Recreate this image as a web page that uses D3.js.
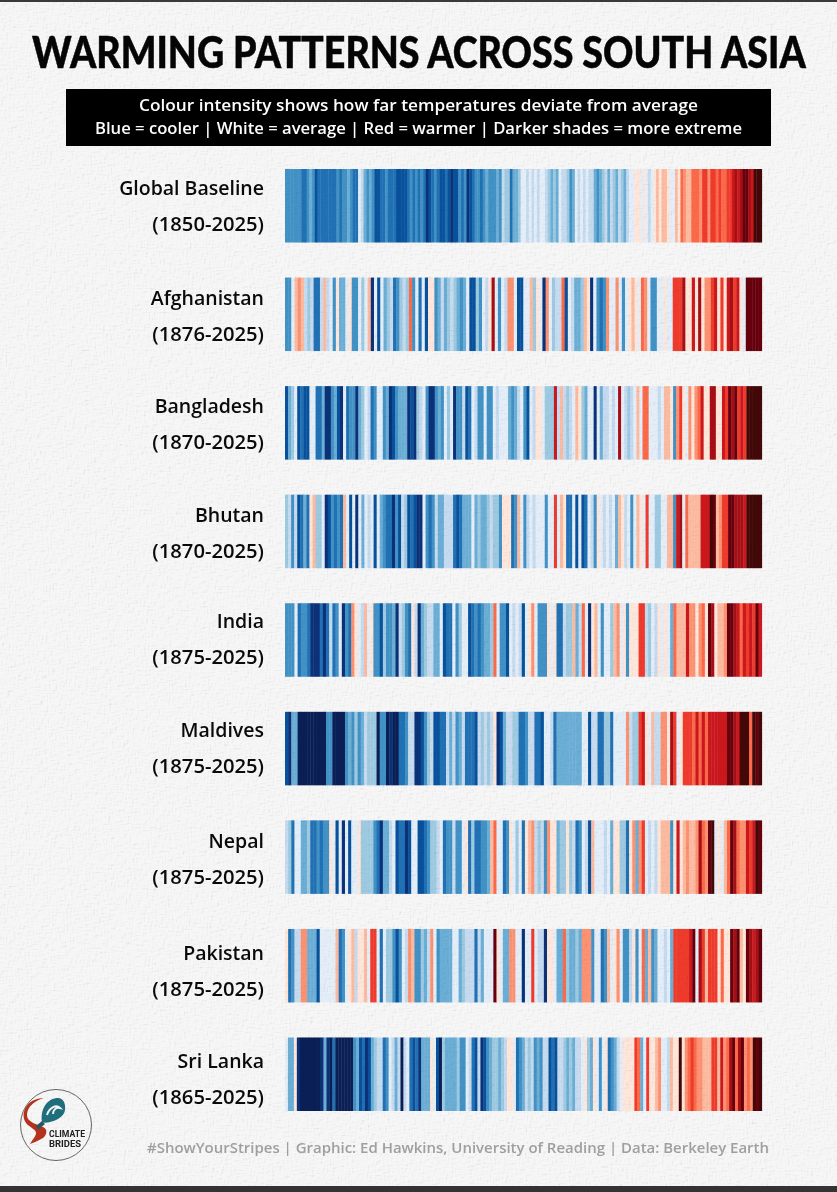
<!DOCTYPE html>
<html>
<head>
<meta charset="utf-8">
<script src="https://cdn.jsdelivr.net/npm/d3@7"></script>
<style>
  html, body { margin: 0; padding: 0; background: #f3f3f3; }
  svg { display: block; }
</style>
</head>
<body>
<svg id="chart" width="837" height="1192"></svg>
<script>
// stripe level per year: -9 darkest blue ... 9 darkest red
const globalBaseline = [-5,-5,-5,-5,-5,-5,-6,-6,-5,-4,-5,-7,-6,-6,-6,-6,-6,-6,-6,-5,-6,-5,-5,-4,-5,-6,-6,-1,-2,-4,-5,-4,-5,-7,-7,-6,-6,-5,-6,-6,-6,-7,-7,-7,-7,-6,-5,-6,-5,-6,-5,-6,-8,-7,-6,-5,-6,-7,-7,-6,-7,-8,-7,-7,-5,-6,-5,-8,-7,-6,-5,-5,-6,-5,-4,-5,-5,-5,-4,-5,-2,-3,-3,-6,-4,-4,-3,-1,-1,-2,-1,-2,-1,-2,-1,-1,-2,-3,-4,-3,-4,-1,-2,-2,-3,-5,-4,-1,-2,-1,-2,-1,-2,-2,-4,-5,-4,-3,-2,-4,-2,-3,-4,-2,-3,-4,-2,-1,-1,1,1,-1,1,-1,-2,-1,1,2,1,2,2,1,-1,-1,2,1,4,3,2,2,4,4,4,3,5,5,3,5,5,4,5,4,4,5,5,6,7,6,7,8,8,7,6,9,9,9];
const afghanistan = [-5,-5,-1,2,3,2,-2,-3,-2,-6,-6,-2,2,-2,-1,-5,1,-4,-4,-1,1,-5,-5,-1,-3,-1,2,-8,-1,-7,-1,-4,-3,-2,-6,-5,-3,-2,-3,4,-5,-1,-6,-1,-7,1,1,-5,-4,-2,-4,-3,-2,-3,-4,-5,-4,-1,-7,-7,-3,-5,-1,-2,1,7,-1,-5,-1,-2,3,3,-1,-7,-7,-1,-1,2,-3,1,-1,-8,3,-1,-3,-2,-2,4,-7,-1,-2,-4,-4,-3,2,1,-8,-1,-5,-6,-5,3,-1,-1,3,-1,-5,-1,1,2,1,-1,4,3,-1,-5,-5,-1,-1,1,-1,-1,5,5,5,7,1,1,6,1,7,1,3,3,5,6,1,5,1,6,7,5,6,1,-1,8,8,8,8,8];
const bangladesh = [-7,-4,-3,-1,-7,-6,-7,-7,-1,-1,-6,-6,-4,-8,-8,-5,-4,-7,-8,-1,-6,-5,-5,-8,-4,-3,-1,-2,-6,-5,-1,-1,-5,-4,-8,-7,-5,-4,-4,-4,-8,-7,-8,-3,-2,-1,-5,-8,-8,-5,-4,-5,-1,-3,-1,-8,-5,-5,-2,-7,-6,-1,-2,-5,-5,-1,-5,-5,-1,-2,-1,-1,-1,-4,-5,-4,-2,-1,-5,-7,-1,-2,1,1,-1,-3,-3,-3,6,-2,2,-2,-3,-2,-1,2,1,-3,-4,-1,-1,-8,-1,-4,-2,-2,-1,-2,-1,7,-1,-2,-3,-2,-1,2,-1,4,4,-1,-1,-1,-2,-1,2,2,1,-5,3,5,1,-1,3,1,3,4,6,1,1,7,7,1,1,6,5,8,7,8,5,6,5,9,9,9,9,9];
const bhutan = [-3,-2,-5,-2,-7,-6,-4,-6,1,2,-3,-3,-1,-8,-7,-5,-6,-5,-6,2,-1,-7,-1,-8,-1,-4,-1,-2,-1,-7,-1,-4,-5,-6,-6,-8,-5,-7,-2,-3,-7,-6,-7,-8,-8,-1,-5,-6,-5,-2,-4,-4,-2,-2,-2,-6,-7,-6,-4,-4,-4,-1,-4,-3,-4,-4,-3,-2,-3,-3,-5,1,1,1,-6,-5,2,-1,-5,-2,-1,-2,-1,-1,-1,-5,-1,-1,5,-1,2,1,-6,-6,-1,-7,-1,-7,-6,-1,-2,-5,1,-1,-2,-1,-2,-1,-4,2,1,-2,-1,-5,-1,2,1,-1,5,-1,-1,-3,-3,-1,-1,2,2,-5,6,7,-1,4,2,2,2,2,6,6,6,9,8,2,3,5,5,8,8,7,7,7,6,9,9,9,9,9];
const india = [-5,-5,-5,-1,-6,-5,-5,-6,-8,-8,-8,-6,-8,-6,-2,-6,-5,-1,-8,-5,-6,3,1,-1,-2,2,-1,1,-5,-5,-7,-3,-5,-5,-4,-8,-2,-3,-5,-6,1,-2,-8,-4,-3,-2,-2,-4,-4,-1,-7,-6,-6,-1,-5,-3,-1,-1,-7,-6,-5,-6,-5,-4,-4,-3,4,-1,-5,-5,-7,-1,-2,-1,-2,-7,-1,1,3,-1,-5,-5,-5,1,-1,1,-6,-6,-2,-3,-3,2,-4,-2,4,-1,-8,1,2,-1,-5,-1,-1,-3,2,3,-1,1,-5,1,1,1,5,5,-2,-3,-1,-2,1,-1,1,-1,-4,4,2,2,2,6,3,3,1,3,4,1,8,7,1,2,2,3,8,8,7,6,4,6,5,6,5,8,6];
const maldives = [-7,-8,-4,-4,-9,-9,-9,-9,-9,-9,-9,-9,-9,-5,-5,-9,-9,-9,-9,-5,-4,-5,-3,-5,-4,-2,-3,-3,-3,-9,-5,-5,-9,-8,-9,-9,-6,-6,-5,-2,-2,-8,-8,-7,-5,-3,-2,-7,-7,-6,-6,-2,-4,-2,-5,-4,-2,-6,-6,-6,-7,-2,-3,-2,-3,-2,1,-8,-7,-4,-2,-2,-3,-3,-6,-6,-5,-2,-2,-6,-6,-7,-1,-1,-2,-6,-4,-4,-4,-4,-4,-4,-4,-4,-1,-1,-7,-2,-2,-6,-6,-3,-3,-6,-1,-1,-1,-1,3,-2,-3,-3,5,6,1,-1,2,-2,-2,3,3,1,7,5,-1,1,5,5,5,4,6,4,6,4,6,6,6,6,6,6,8,8,7,6,9,9,9,4,9,8,9];
const nepal = [-2,-3,-6,-1,-1,-4,-4,-3,-6,-6,-5,-6,-5,-5,1,-1,-7,-1,-8,-1,-7,-1,-1,1,-3,-3,-3,-3,-5,-6,-8,-4,-4,-2,-1,-7,-6,-6,-8,-7,-1,-1,-7,-7,-6,-5,-3,-3,-2,-1,-6,-5,-5,-2,-5,-5,-1,1,-6,-3,-6,-6,-5,-5,-4,2,4,-1,-1,-6,-5,1,-1,-3,-1,-6,1,2,3,-2,-3,-2,-5,3,1,1,-4,-3,-3,1,-3,-2,-6,-5,-1,-2,-7,2,-1,-1,-1,-2,-1,-4,1,1,-3,-3,-6,1,3,-4,3,5,-1,-2,-1,-2,1,2,2,2,-5,1,6,1,2,3,2,2,3,7,4,3,8,9,-1,1,-1,2,4,8,7,4,3,3,6,5,6,9,8];
const pakistan = [1,-6,-5,-2,-2,3,3,-4,-4,-4,-7,-1,-1,-1,-1,-1,2,-6,-5,-1,1,2,-2,1,1,2,-1,5,5,-1,-6,-1,-3,-3,-5,-7,-5,-1,-2,3,2,-5,-5,-3,-4,-2,3,-1,-5,-4,-4,-4,-4,-1,-1,-4,-3,-2,-2,-2,-6,-2,-4,-1,-1,-1,8,1,-1,-4,-4,3,3,-1,-1,-8,-1,-1,5,-1,-2,-2,-8,1,1,-1,-4,-4,4,-3,-4,-4,-3,-4,3,3,3,-5,-1,-1,-6,-5,2,-1,1,3,-1,-5,-5,-2,1,-5,-1,4,-4,2,-5,-4,-1,-1,-2,-1,-4,5,5,5,5,5,6,8,-1,7,5,2,5,5,5,1,4,1,1,8,7,8,2,1,8,7,6,7,8];
const sriLanka = [-1,-4,-4,1,-8,-9,-9,-9,-9,-9,-9,-9,-8,-4,-8,-9,-6,-9,-9,-9,-9,-9,-9,-5,-4,-7,-6,-8,-7,-4,-3,-2,-2,-6,-5,-1,-2,-4,-2,-9,-2,-1,-6,-7,-6,-8,-4,-4,-4,1,-1,-7,-9,-3,-4,-4,-4,-4,-3,-5,-5,-1,-2,-6,-7,-2,-8,-7,-5,-4,-3,-3,-4,-3,-2,1,1,-1,-6,-5,-4,-2,-3,-2,-5,-4,-5,-2,-2,-7,-6,-7,-2,-2,-3,-4,-3,-4,-2,-2,-1,1,-3,-4,1,-1,-5,-1,1,-6,-5,-4,-2,-1,1,1,1,1,5,4,-4,-1,5,1,1,2,3,-1,-1,-2,2,1,1,9,1,3,4,5,4,3,3,2,2,2,5,5,2,6,3,4,7,8,4,7,8,3,4,3,9,8,9];

const levels = [-9,-8,-7,-6,-5,-4,-3,-2,-1,1,2,3,4,5,6,7,8,9];
const levelColors = ["#0a1f55","#0b3278","#08519c","#2171b5","#4292c6","#6baed6","#9ecae1","#c6dbef","#e3eef8",
  "#fee6da","#fcbba1","#fc9272","#fb6a4a","#ef3b2c","#cb181d","#a50f15","#67000d","#430808"];

const names = ["Global Baseline","Afghanistan","Bangladesh","Bhutan","India","Maldives","Nepal","Pakistan","Sri Lanka"];
const periods = ["(1850-2025)","(1876-2025)","(1870-2025)","(1870-2025)","(1875-2025)","(1875-2025)","(1875-2025)","(1875-2025)","(1865-2025)"];
const series = [globalBaseline, afghanistan, bangladesh, bhutan, india, maldives, nepal, pakistan, sriLanka];

const titleText = "WARMING PATTERNS ACROSS SOUTH ASIA";
const subtitleLines = [
  "Colour intensity shows how far temperatures deviate from average",
  "Blue = cooler | White = average | Red = warmer | Darker shades = more extreme"
];
const footerText = "#ShowYourStripes | Graphic: Ed Hawkins, University of Reading | Data: Berkeley Earth";

const svg = d3.select("#chart");
const width = 837, height = 1192;
const handFont = "'Open Sans', 'Noto Sans', sans-serif";
// labels do not sit at the same height in every row of the original
const labelNudge = [-1, 0, 0, 0, -2, -2, 1, 4, 3];

const color = d3.scaleOrdinal().domain(levels).range(levelColors);
const y = d3.scaleBand().domain(names).range([169, 1111]).paddingInner(0.323);

// canvas texture, two woven directions run through a light source
const defs = svg.append("defs");
const weave = defs.append("filter").attr("id", "weave")
  .attr("x", 0).attr("y", 0).attr("width", "100%").attr("height", "100%");
weave.append("feTurbulence").attr("type", "fractalNoise").attr("baseFrequency", "0.12 0.95")
  .attr("numOctaves", 2).attr("seed", 3).attr("result", "h");
weave.append("feTurbulence").attr("type", "fractalNoise").attr("baseFrequency", "0.95 0.12")
  .attr("numOctaves", 2).attr("seed", 8).attr("result", "v");
weave.append("feBlend").attr("in", "h").attr("in2", "v").attr("mode", "multiply").attr("result", "m");
const light = weave.append("feDiffuseLighting").attr("in", "m").attr("surfaceScale", 0.8)
  .attr("diffuseConstant", 1.1).attr("lighting-color", "#ffffff");
light.append("feDistantLight").attr("azimuth", 225).attr("elevation", 65);

// stripes in the original run slightly into each other
defs.append("filter").attr("id", "soften")
  .attr("x", "-1%").attr("y", 0).attr("width", "102%").attr("height", "100%")
  .attr("color-interpolation-filters", "sRGB")
  .append("feGaussianBlur").attr("stdDeviation", "0.6 0");

svg.append("rect").attr("width", width).attr("height", height).attr("fill", "#f6f6f6");

// title, squeezed to the width it has in the original
const title = svg.append("text")
  .style("font-family", "'Lato', sans-serif").style("font-weight", 900).style("font-size", "43px")
  .attr("fill", "#050505").attr("stroke", "#050505").attr("stroke-width", 0.5).attr("stroke-linejoin", "round")
  .text(titleText);
title.attr("transform", `translate(32,68) scale(${774 / title.node().getComputedTextLength()},1)`);

// subtitle box
svg.append("rect").attr("x", 66).attr("y", 89).attr("width", 705).attr("height", 57).attr("fill", "#000");
svg.selectAll(".subtitle").data(subtitleLines).enter().append("text")
  .attr("class", "subtitle")
  .attr("x", 418.5).attr("y", (d, i) => 111 + i * 23)
  .attr("text-anchor", "middle")
  .attr("textLength", (d, i) => [559, 647][i]).attr("lengthAdjust", "spacingAndGlyphs")
  .style("font-family", handFont).style("font-weight", 600).style("font-size", "16.5px")
  .attr("fill", "#fff")
  .text(d => d);

// one row of stripes per country
const rows = svg.selectAll(".row").data(names).enter().append("g")
  .attr("class", "row")
  .attr("transform", d => `translate(0,${y(d)})`);

rows.each(function (name, i) {
  const values = series[i];
  const x = d3.scaleBand().domain(d3.range(values.length)).range([285, 761.7]);
  d3.select(this).append("g").attr("filter", "url(#soften)")
    .selectAll("rect").data(values).enter().append("rect")
    .attr("x", (d, j) => x(j))
    .attr("y", 0)
    .attr("width", x.bandwidth() + 0.4)
    .attr("height", y.bandwidth())
    .attr("fill", d => color(d));
});

rows.append("text")
  .attr("x", 264).attr("y", (d, i) => 27 + labelNudge[i])
  .attr("text-anchor", "end")
  .style("font-family", handFont).style("font-weight", 600).style("font-size", "19.5px")
  .attr("fill", "#0a0a0a")
  .text(d => d);

rows.append("text")
  .attr("x", 264).attr("y", (d, i) => 63 + labelNudge[i])
  .attr("text-anchor", "end")
  .style("font-family", handFont).style("font-weight", 600).style("font-size", "20.2px")
  .attr("fill", "#0a0a0a")
  .text((d, i) => periods[i]);

// footer
svg.append("text")
  .attr("x", 147).attr("y", 1153)
  .attr("textLength", 622).attr("lengthAdjust", "spacingAndGlyphs")
  .style("font-family", handFont).style("font-weight", 600).style("font-size", "15px")
  .attr("fill", "#a0a0a0")
  .text(footerText);

// logo
const logo = svg.append("g");
logo.append("circle").attr("cx", 56).attr("cy", 1125).attr("r", 35.5)
  .attr("fill", "#f6f6f6").attr("stroke", "#555").attr("stroke-width", 0.9);
logo.append("path")
  .attr("d", "M44 1098 C36 1100 27 1106 27 1115 C27 1122 36 1124 43 1127 C48 1129 47 1135 43 1138 C38 1141 33 1143 30 1144 C33 1139 36 1136 36 1133 C36 1129 30 1128 26 1123 C21 1116 24 1106 32 1101 C36 1099 40 1098 44 1098 Z")
  .attr("fill", "#b5321e");
logo.append("path")
  .attr("d", "M42 1122 C40 1108 48 1098 58 1098 C63 1098 66 1103 65 1110 C64 1116 58 1120 50 1122 C47 1123 44 1123 42 1122 Z")
  .attr("fill", "#1f6f7c");
logo.append("path")
  .attr("d", "M47 1115 C49 1108 56 1104 60 1108 C56 1107 53 1110 53 1114")
  .attr("fill", "none").attr("stroke", "#f6f6f6").attr("stroke-width", 2);
logo.append("path")
  .attr("d", "M36 1126 L42 1121 L45 1124 L38 1130 Z").attr("fill", "#2b5560");
logo.append("text").attr("x", 49).attr("y", 1137)
  .attr("textLength", 36).attr("lengthAdjust", "spacingAndGlyphs")
  .style("font-family", "'Roboto', sans-serif").style("font-weight", 700).style("font-size", "9px")
  .attr("fill", "#222").text("CLIMATE");
logo.append("text").attr("x", 49).attr("y", 1147)
  .attr("textLength", 32).attr("lengthAdjust", "spacingAndGlyphs")
  .style("font-family", "'Roboto', sans-serif").style("font-weight", 700).style("font-size", "9px")
  .attr("fill", "#222").text("BRIDES");

// texture goes over everything
svg.append("rect").attr("width", width).attr("height", height)
  .attr("filter", "url(#weave)")
  .style("mix-blend-mode", "multiply");

// screenshot edges
svg.append("rect").attr("width", width).attr("height", 2).attr("fill", "#3a3a3a");
svg.append("rect").attr("y", 1186).attr("width", width).attr("height", 6).attr("fill", "#333");
</script>
</body>
</html>
